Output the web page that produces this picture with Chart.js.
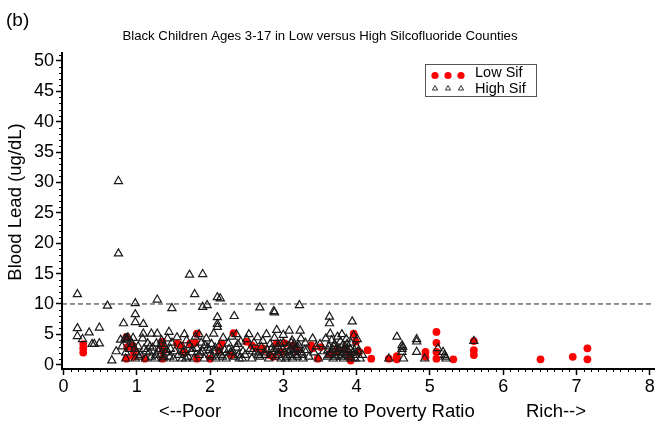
<!DOCTYPE html>
<html>
<head>
<meta charset="utf-8">
<script src="https://cdn.jsdelivr.net/npm/chart.js@4.4.1/dist/chart.umd.min.js"></script>
<style>
  html, body { margin: 0; padding: 0; background: #fff; }
  #wrap { width: 660px; height: 429px; position: relative; }
</style>
</head>
<body>
<div id="wrap"><canvas id="leadChart"></canvas></div>
<script>
const xTicks = [0, 1, 2, 3, 4, 5, 6, 7, 8];
const yTicks = [0, 5, 10, 15, 20, 25, 30, 35, 40, 45, 50];
const leadThreshold = 10;

// [income to poverty ratio, blood lead]
const lowSif = [
  [0.27, 3.4], [0.27, 2.7], [0.27, 2.0],
  [0.86, 4.6], [0.87, 2.9], [0.86, 1.0], [0.95, 3.1], [0.96, 2.2], [0.96, 1.3], [1.11, 1.0],
  [1.35, 3.8], [1.35, 2.9], [1.36, 2.2], [1.35, 1.0],
  [1.55, 3.5], [1.60, 3.2], [1.64, 2.1], [1.73, 3.5], [1.80, 3.6], [1.82, 5.1], [1.82, 1.0],
  [2.00, 1.0], [2.12, 2.4], [2.16, 3.5], [2.32, 5.2], [2.29, 1.6], [2.50, 3.8], [2.57, 3.2],
  [2.63, 2.7], [2.72, 2.4], [2.72, 2.7], [2.81, 1.6], [2.86, 1.3], [2.91, 3.5], [2.97, 2.1],
  [3.02, 3.5], [3.13, 3.2], [3.18, 2.4], [3.38, 3.2], [3.40, 2.7], [3.47, 1.0], [3.51, 2.9],
  [3.63, 1.8], [3.74, 2.4], [3.74, 2.1], [3.85, 2.7], [3.90, 1.6], [3.92, 0.7], [3.96, 5.1],
  [3.99, 3.8], [4.03, 2.1], [4.15, 2.4], [4.20, 1.0],
  [4.44, 1.0], [4.55, 1.4], [4.55, 0.9], [4.94, 2.1], [4.94, 1.3],
  [5.09, 5.4], [5.09, 3.6], [5.09, 2.1], [5.09, 1.0], [5.32, 0.9],
  [5.60, 3.9], [5.60, 2.4], [5.60, 1.6],
  [6.51, 0.9], [6.95, 1.3], [7.15, 2.7], [7.15, 0.9]
];

const highSif = [
  [0.19, 11.6], [0.60, 9.7], [0.75, 30.2], [0.75, 18.3], [0.98, 10.1], [0.98, 8.3], [0.98, 7.0],
  [1.28, 10.7], [1.48, 9.3], [1.72, 14.8], [1.90, 14.9], [1.79, 11.6], [2.10, 11.1], [2.14, 10.9],
  [1.90, 9.5], [1.96, 9.8], [2.68, 9.4], [2.87, 8.8], [2.88, 8.6], [3.22, 9.8], [2.33, 8.0],
  [3.63, 7.9], [3.63, 6.8], [3.94, 7.1], [2.10, 7.8], [2.10, 6.7], [2.10, 6.2], [0.82, 6.8], [1.09, 6.7],
  [0.19, 6.0], [0.19, 4.7], [0.26, 4.2], [0.35, 5.3], [0.39, 3.4], [0.49, 6.1], [0.49, 3.5],
  [0.66, 0.7], [0.72, 2.2], [0.78, 4.1], [0.84, 4.3], [0.86, 4.3], [0.87, 4.1], [0.42, 3.4],
  [0.80, 3.0], [0.85, 2.0], [0.85, 1.0], [0.88, 4.5], [0.90, 2.6], [0.92, 3.8], [0.95, 4.4],
  [0.98, 1.0], [1.00, 2.0], [1.02, 3.0], [1.05, 1.6], [1.08, 4.3], [1.09, 5.1], [1.10, 2.6],
  [1.12, 1.0], [1.15, 3.5], [1.17, 2.0], [1.20, 5.1], [1.20, 1.3], [1.22, 2.8], [1.25, 1.0],
  [1.27, 3.5], [1.28, 5.1], [1.30, 2.2], [1.32, 1.6], [1.34, 4.0], [1.36, 1.0], [1.38, 3.0],
  [1.40, 2.0], [1.42, 4.3], [1.44, 5.4], [1.45, 1.3], [1.46, 2.6], [1.48, 3.6], [1.50, 1.0],
  [1.52, 2.2], [1.55, 4.5], [1.57, 1.6], [1.60, 3.0], [1.62, 1.0], [1.65, 5.0], [1.65, 2.4],
  [1.68, 4.0], [1.70, 1.3], [1.72, 3.2], [1.75, 2.0], [1.78, 1.0], [1.80, 4.6], [1.82, 2.7],
  [1.85, 5.0], [1.85, 1.6], [1.88, 3.6], [1.90, 2.2], [1.92, 1.0], [1.95, 4.3], [1.97, 2.8],
  [2.00, 1.6], [2.02, 3.4], [2.05, 5.1], [2.06, 2.2], [2.08, 1.0], [2.12, 3.0], [2.15, 1.6],
  [2.18, 4.4], [2.20, 2.4], [2.22, 1.0], [2.25, 3.5], [2.28, 2.0], [2.30, 4.6], [2.33, 1.3],
  [2.36, 5.0], [2.36, 2.8], [2.40, 1.0], [2.42, 3.8], [2.45, 2.2], [2.48, 1.6], [2.50, 4.2],
  [2.53, 5.0], [2.55, 2.6], [2.57, 1.0], [2.60, 3.6], [2.62, 2.0], [2.65, 4.5], [2.68, 1.3],
  [2.70, 2.9], [2.72, 3.9], [2.75, 1.6], [2.77, 5.0], [2.78, 2.4], [2.80, 1.0], [2.82, 3.4],
  [2.85, 2.0], [2.88, 4.4], [2.90, 1.3], [2.91, 5.7], [2.92, 3.0], [2.95, 2.4], [2.97, 1.0],
  [3.00, 4.9], [3.00, 3.6], [3.02, 2.0], [3.05, 1.3], [3.06, 3.0], [3.08, 5.6], [3.10, 2.4],
  [3.12, 4.0], [3.13, 1.0], [3.15, 3.4], [3.18, 1.6], [3.20, 2.8], [3.23, 5.6], [3.24, 4.3],
  [3.25, 2.0], [3.27, 1.0], [3.30, 3.6], [3.32, 2.4], [3.35, 1.3], [3.40, 4.3], [3.42, 2.0],
  [3.45, 3.0], [3.48, 1.0], [3.50, 3.4], [3.55, 2.2], [3.58, 4.3], [3.60, 1.3], [3.62, 3.0],
  [3.64, 5.1], [3.65, 2.0], [3.66, 4.0], [3.68, 1.0], [3.70, 3.4], [3.72, 2.6], [3.74, 4.6],
  [3.75, 1.6], [3.78, 3.8], [3.80, 2.0], [3.80, 5.0], [3.82, 1.0], [3.84, 3.0], [3.86, 4.2],
  [3.88, 2.4], [3.90, 1.3], [3.92, 3.6], [3.95, 2.0], [3.96, 4.8], [3.98, 1.0], [4.00, 3.0],
  [4.02, 2.2], [4.05, 1.0], [4.08, 1.6],
  [0.93, 3.4], [0.97, 2.6], [1.03, 1.3], [1.13, 2.2], [1.18, 3.0], [1.26, 1.6], [1.31, 2.6],
  [1.33, 3.4], [1.37, 1.3], [1.41, 2.4], [1.63, 2.0], [1.67, 1.0], [1.76, 2.6], [1.87, 2.0],
  [1.93, 3.2], [1.99, 2.4], [2.03, 1.3], [2.07, 2.8], [2.13, 2.0], [2.17, 1.3], [2.26, 2.6],
  [2.31, 2.2], [2.38, 3.4], [2.39, 1.6], [2.44, 1.0], [2.58, 2.2], [2.66, 1.6], [2.74, 2.0],
  [2.84, 2.6], [2.89, 2.2], [2.93, 1.6], [2.96, 3.4], [2.99, 2.6], [3.03, 1.0], [3.07, 2.2],
  [3.09, 1.6], [3.11, 3.6], [3.14, 2.0], [3.16, 2.6], [3.19, 1.3], [3.21, 3.2], [3.26, 1.6],
  [3.29, 2.4], [3.61, 2.4], [3.63, 1.6], [3.67, 2.6], [3.69, 3.0], [3.71, 1.3], [3.73, 2.0],
  [3.76, 2.6], [3.79, 1.3], [3.81, 3.2], [3.83, 2.4], [3.85, 1.6], [3.87, 3.4], [3.89, 2.0],
  [3.91, 2.6], [3.93, 1.0], [3.97, 2.4], [3.99, 1.6], [4.01, 4.2],
  [4.44, 1.0], [4.55, 4.6], [4.62, 3.2], [4.62, 2.6], [4.62, 2.1], [4.63, 2.9], [4.64, 1.0],
  [4.82, 3.8], [4.82, 4.2], [4.82, 2.1], [4.93, 1.0], [5.11, 2.7], [5.18, 2.1], [5.20, 1.6],
  [5.21, 1.3], [5.22, 1.0], [5.60, 3.9]
];

const font = 'Liberation Sans, Arial, sans-serif';

const minorTicks = {
  id: 'minorTicks',
  afterDraw(chart) {
    const { ctx, scales: { x, y } } = chart;
    ctx.save();
    ctx.strokeStyle = '#000';
    ctx.lineWidth = 1;
    ctx.beginPath();
    for (let v = 1; v <= 51; v++) {
      if (v % 5 === 0) continue;
      const py = Math.round(y.getPixelForValue(v)) + 0.5;
      ctx.moveTo(y.right - 3, py);
      ctx.lineTo(y.right, py);
    }
    for (let i = 1; i < 80; i++) {
      if (i % 10 === 0) continue;
      const px = Math.round(x.getPixelForValue(i / 10)) + 0.5;
      ctx.moveTo(px, x.top);
      ctx.lineTo(px, x.top + 3);
    }
    ctx.stroke();
    ctx.restore();
  }
};

const labels = {
  id: 'labels',
  afterDraw(chart) {
    const ctx = chart.ctx;
    ctx.save();
    ctx.fillStyle = '#000';
    ctx.textBaseline = 'middle';

    ctx.font = '19px ' + font;
    ctx.textAlign = 'left';
    ctx.fillText('(b)', 6, 21);

    ctx.font = '13.2px ' + font;
    ctx.textAlign = 'center';
    ctx.fillText('Black Children Ages 3-17 in Low versus High Silcofluoride Counties', 320, 36);

    ctx.font = '18.5px ' + font;
    ctx.fillText('<--Poor', 190, 412);
    ctx.fillText('Income to Poverty Ratio', 376, 412);
    ctx.fillText('Rich-->', 556, 412);

    ctx.save();
    ctx.translate(16, 202);
    ctx.rotate(-Math.PI / 2);
    ctx.font = '18.5px ' + font;
    ctx.fillText('Blood Lead (ug/dL)', 0, 0);
    ctx.restore();

    // legend box
    ctx.strokeStyle = '#555';
    ctx.lineWidth = 1;
    ctx.strokeRect(425.5, 64.5, 111, 32);
    ctx.fillStyle = '#ff0000';
    [435, 448, 461].forEach(px => {
      ctx.beginPath();
      ctx.arc(px, 75.5, 3.6, 0, Math.PI * 2);
      ctx.fill();
    });
    ctx.strokeStyle = '#333';
    [435, 448, 461].forEach(px => {
      ctx.beginPath();
      ctx.moveTo(px, 85.5);
      ctx.lineTo(px + 2.6, 90);
      ctx.lineTo(px - 2.6, 90);
      ctx.closePath();
      ctx.stroke();
    });
    ctx.fillStyle = '#000';
    ctx.textAlign = 'left';
    ctx.font = '14.5px ' + font;
    ctx.fillText('Low Sif', 475, 73);
    ctx.fillText('High Sif', 475, 89);
    ctx.restore();
  }
};

const ctx = document.getElementById('leadChart').getContext('2d');
const chart = new Chart(ctx, {
  type: 'scatter',
  data: {
    datasets: [
      {
        label: 'Low Sif',
        data: lowSif.map(p => ({ x: p[0], y: p[1] })),
        pointStyle: 'circle',
        pointRadius: 3.9,
        backgroundColor: '#ff0000',
        borderWidth: 0,
        order: 3
      },
      {
        label: 'High Sif',
        data: highSif.map(p => ({ x: p[0], y: p[1] })),
        pointStyle: 'triangle',
        pointRadius: 4.7,
        backgroundColor: 'rgba(0,0,0,0)',
        borderColor: '#1a1a1a',
        borderWidth: 1.2,
        order: 2
      },
      {
        type: 'line',
        label: 'Threshold',
        data: [{ x: -0.02, y: leadThreshold }, { x: 8.06, y: leadThreshold }],
        borderColor: '#222',
        borderWidth: 1,
        borderDash: [5, 3],
        pointRadius: 0,
        order: 1
      }
    ]
  },
  options: {
    responsive: true,
    maintainAspectRatio: false,
    animation: false,
    layout: { padding: { top: 53, right: 4, left: 0, bottom: 0 } },
    plugins: { legend: { display: false }, tooltip: { enabled: false } },
    scales: {
      x: {
        type: 'linear',
        min: -0.02,
        max: 8.06,
        afterFit: s => { s.height = 60; },
        afterBuildTicks: s => { s.ticks = xTicks.map(v => ({ value: v })); },
        grid: { drawOnChartArea: false, tickLength: 6, tickColor: '#000', tickWidth: 1.5 },
        border: { color: '#000', width: 2 },
        ticks: { color: '#000', font: { family: font, size: 18 }, padding: 1, maxRotation: 0 }
      },
      y: {
        min: -0.7,
        max: 51.3,
        afterFit: s => { s.width = 62; },
        afterBuildTicks: s => { s.ticks = yTicks.map(v => ({ value: v })); },
        grid: { drawOnChartArea: false, tickLength: 6, tickColor: '#000', tickWidth: 1.5 },
        border: { color: '#000', width: 2 },
        ticks: { color: '#000', font: { family: font, size: 18 }, padding: 2 }
      }
    }
  },
  plugins: [minorTicks, labels]
});
</script>
</body>
</html>
